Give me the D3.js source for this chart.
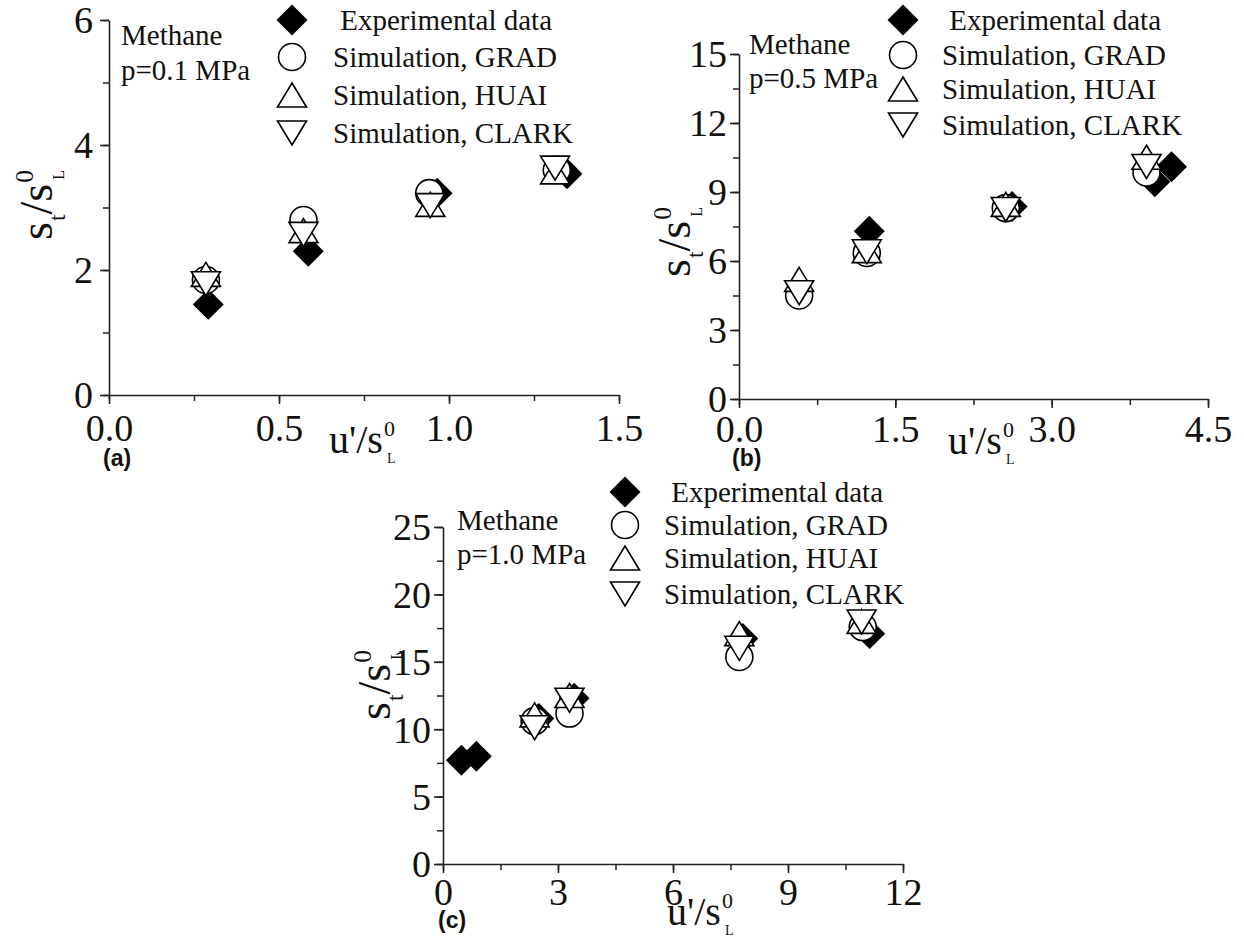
<!DOCTYPE html>
<html>
<head>
<meta charset="utf-8">
<script src="https://cdn.jsdelivr.net/npm/d3@7"></script>
<style>
body { margin: 0; background: #fff; }
svg { display: block; }
text { font-family: "Liberation Serif", "Times New Roman", serif; fill: #111; }
.panel-label { font-family: "Liberation Sans", Arial, sans-serif; font-weight: bold; }
</style>
</head>
<body>
<div id="chart"></div>
<script>
// ---- data: [u'/sL0, st/sL0] ----
// (a) p = 0.1 MPa
var expA   = [[0.292,1.45],[0.586,2.30],[0.965,3.23],[1.347,3.54]];
var gradA  = [[0.285,1.84],[0.572,2.80],[0.942,3.23],[1.317,3.60]];
var huaiA  = [[0.285,1.93],[0.572,2.63],[0.945,3.05],[1.312,3.57]];
var clarkA = [[0.285,1.78],[0.572,2.57],[0.945,3.03],[1.312,3.63]];

// (b) p = 0.5 MPa
var expB   = [[1.25,7.29],[2.62,8.37],[3.99,9.45],[4.15,10.10]];
var gradB  = [[0.577,4.50],[1.226,6.35],[2.56,8.30],[3.91,9.85]];
var huaiB  = [[0.577,5.20],[1.226,6.45],[2.56,8.46],[3.91,10.51]];
var clarkB = [[0.577,4.62],[1.226,6.40],[2.56,8.24],[3.91,10.11]];

// (c) p = 1.0 MPa
var expC   = [[0.48,7.70],[0.87,8.00],[2.50,10.80],[3.42,12.30],[7.82,16.72],[11.13,17.09]];
var gradC  = [[2.39,10.60],[3.30,11.16],[7.73,15.36],[10.95,17.58]];
var huaiC  = [[2.39,11.06],[3.30,12.50],[7.73,17.09],[10.92,18.00]];
var clarkC = [[2.39,10.11],[3.30,12.15],[7.73,16.00],[10.92,17.95]];

var xTicksA = [0, 0.5, 1.0, 1.5],  xLabelsA = ["0.0","0.5","1.0","1.5"];
var yTicksA = [0, 2, 4, 6],        yLabelsA = ["0","2","4","6"];
var xTicksB = [0, 1.5, 3.0, 4.5],  xLabelsB = ["0.0","1.5","3.0","4.5"];
var yTicksB = [0, 3, 6, 9, 12, 15],yLabelsB = ["0","3","6","9","12","15"];
var xTicksC = [0, 3, 6, 9, 12],    xLabelsC = ["0","3","6","9","12"];
var yTicksC = [0, 5, 10, 15, 20, 25], yLabelsC = ["0","5","10","15","20","25"];

var legendLabels = [" Experimental data", "Simulation, GRAD", "Simulation, HUAI", "Simulation, CLARK"];
var fuelLabel = "Methane";
var pressureLabels = ["p=0.1 MPa", "p=0.5 MPa", "p=1.0 MPa"];
var panelLabels = ["(a)", "(b)", "(c)"];

// ---- layout ----
var width = 1244, height = 942;
var svg = d3.select("#chart").append("svg").attr("width", width).attr("height", height);

var panels = [
  { exp: expA, grad: gradA, huai: huaiA, clark: clarkA, xd: [0,1.5], yd: [0,6],
    xt: xTicksA, xl: xLabelsA, yt: yTicksA, yl: yLabelsA, xMinor: 0.25, yMinor: 1,
    left: 109, right: 619, top: 20, bottom: 395,
    legX: 292, legY: [20,57,95,133], legTx: 333,
    methX: 121, methY: [45,80], xTitle: [329,453], yTitle: [52,240], lab: [103,466], lx: -16, ly: 46 },
  { exp: expB, grad: gradB, huai: huaiB, clark: clarkB, xd: [0,4.5], yd: [0,15],
    xt: xTicksB, xl: xLabelsB, yt: yTicksB, yl: yLabelsB, xMinor: 0.75, yMinor: 1.5,
    left: 739, right: 1208, top: 54, bottom: 399,
    legX: 903, legY: [20,55,89,125], legTx: 942,
    methX: 749, methY: [54,88], xTitle: [948,454], yTitle: [690,277], lab: [732,466], lx: -12, ly: 43 },
  { exp: expC, grad: gradC, huai: huaiC, clark: clarkC, xd: [0,12], yd: [0,25],
    xt: xTicksC, xl: xLabelsC, yt: yTicksC, yl: yLabelsC, xMinor: 1.5, yMinor: 2.5,
    left: 443, right: 903, top: 527, bottom: 864,
    legX: 625, legY: [492,525,558,594], legTx: 664,
    methX: 457, methY: [530,564], xTitle: [667,925], yTitle: [390,720], lab: [438,928], lx: -12, ly: 41 }
];

// markers
var diamond = d3.symbol().type(d3.symbolSquare).size(480);
var circle = d3.symbol().type(d3.symbolCircle).size(572);
function triUp(w, h) { return "M0," + (-h/2) + "L" + (w/2) + "," + (h/2) + "L" + (-w/2) + "," + (h/2) + "Z"; }
function triDown(w, h) { return "M0," + (h/2) + "L" + (w/2) + "," + (-h/2) + "L" + (-w/2) + "," + (-h/2) + "Z"; }

function drawMarker(g, kind, x, y) {
  if (kind === 0) {
    g.append("path").attr("d", diamond()).attr("transform", "translate(" + x + "," + y + ") rotate(45)")
      .attr("fill", "#000");
  } else if (kind === 1) {
    g.append("path").attr("d", circle()).attr("transform", "translate(" + x + "," + y + ")")
      .attr("fill", "#fff").attr("stroke", "#000").attr("stroke-width", 1.6);
  } else if (kind === 2) {
    g.append("path").attr("d", triUp(29, 24)).attr("transform", "translate(" + x + "," + y + ")")
      .attr("fill", "#fff").attr("stroke", "#000").attr("stroke-width", 1.6).attr("stroke-linejoin", "miter");
  } else {
    g.append("path").attr("d", triDown(29, 24)).attr("transform", "translate(" + x + "," + y + ")")
      .attr("fill", "#fff").attr("stroke", "#000").attr("stroke-width", 1.6).attr("stroke-linejoin", "miter");
  }
}

// title with sub/superscripts; segs: {m: main, s: sub, p: sup}
function drawTitle(g, segs, fs) {
  var x = 0;
  segs.forEach(function(s) {
    if (s.m) {
      var t = g.append("text").attr("x", x).attr("y", 0).style("font-size", fs + "px").text(s.m);
      x += t.node().getComputedTextLength();
    }
    if (s.s && !s.p) {
      var t2 = g.append("text").attr("x", x + 1).attr("y", fs * 0.28).style("font-size", (fs * 0.52) + "px").text(s.s);
      x += t2.node().getComputedTextLength() + 1;
    }
    if (s.p) {
      g.append("text").attr("x", x + 1).attr("y", -fs * 0.42).style("font-size", (fs * 0.55) + "px").text(s.p);
      g.append("text").attr("x", x + 4).attr("y", fs * 0.25).style("font-size", (fs * 0.35) + "px").text(s.s);
    }
  });
}

panels.forEach(function(p, i) {
  var x = d3.scaleLinear().domain(p.xd).range([p.left, p.right]);
  var y = d3.scaleLinear().domain(p.yd).range([p.bottom, p.top]);
  var g = svg.append("g");

  // minor ticks
  var xm = d3.range(p.xd[0], p.xd[1] + 1e-9, p.xMinor);
  var ym = d3.range(p.yd[0], p.yd[1] + 1e-9, p.yMinor);
  g.append("g").attr("transform", "translate(0," + p.bottom + ")")
    .call(d3.axisBottom(x).tickValues(xm).tickSize(6).tickFormat(""))
    .call(function(a) { a.select(".domain").remove(); a.selectAll("line").attr("stroke", "#222").attr("stroke-width", 1.5); });
  g.append("g").attr("transform", "translate(" + p.left + ",0)")
    .call(d3.axisLeft(y).tickValues(ym).tickSize(6).tickFormat(""))
    .call(function(a) { a.select(".domain").remove(); a.selectAll("line").attr("stroke", "#222").attr("stroke-width", 1.5); });

  // major axes
  var xa = g.append("g").attr("transform", "translate(0," + p.bottom + ")")
    .call(d3.axisBottom(x).tickValues(p.xt).tickSizeInner(9).tickSizeOuter(0)
      .tickFormat(function(d, k) { return p.xl[k]; }));
  xa.selectAll("text").attr("y", p.ly).attr("dy", 0).style("font-size", "38px")
    .style("font-family", "'Liberation Serif', serif").attr("fill", "#111");
  var ya = g.append("g").attr("transform", "translate(" + p.left + ",0)")
    .call(d3.axisLeft(y).tickValues(p.yt).tickSizeInner(9).tickSizeOuter(0)
      .tickFormat(function(d, k) { return p.yl[k]; }));
  ya.selectAll("text").attr("x", p.lx).attr("dy", "0.34em").style("font-size", "38px")
    .style("font-family", "'Liberation Serif', serif").attr("fill", "#111");
  [xa, ya].forEach(function(a) {
    a.select(".domain").attr("stroke", "#222").attr("stroke-width", 1.6);
    a.selectAll("line").attr("stroke", "#222").attr("stroke-width", 1.6);
  });

  // points: experimental first, then GRAD, HUAI, CLARK on top
  var series = [p.exp, p.grad, p.huai, p.clark];
  var pts = g.append("g");
  series.forEach(function(s, k) {
    s.forEach(function(d) { drawMarker(pts, k, x(d[0]), y(d[1])); });
  });

  // legend
  var leg = g.append("g");
  legendLabels.forEach(function(lbl, k) {
    drawMarker(leg, k, p.legX, p.legY[k]);
    leg.append("text").attr("x", p.legTx).attr("y", p.legY[k] + 10)
      .attr("xml:space", "preserve").style("font-size", "29px").style("white-space", "pre").text(lbl);
  });

  // annotation
  g.append("text").attr("x", p.methX).attr("y", p.methY[0]).style("font-size", "29px").text(fuelLabel);
  g.append("text").attr("x", p.methX).attr("y", p.methY[1]).style("font-size", "29px").text(pressureLabels[i]);

  // axis titles
  var xt = g.append("g").attr("transform", "translate(" + p.xTitle[0] + "," + p.xTitle[1] + ")");
  drawTitle(xt, [{ m: "u'/s" }, { p: "0", s: "L" }], 40);
  var yt = g.append("g").attr("transform", "translate(" + p.yTitle[0] + "," + p.yTitle[1] + ") rotate(-90)");
  drawTitle(yt, [{ m: "s" }, { s: "t" }, { m: "/s" }, { p: "0", s: "L" }], 46);

  g.append("text").attr("class", "panel-label").attr("x", p.lab[0]).attr("y", p.lab[1])
    .style("font-size", "23px").text(panelLabels[i]);
});
</script>
</body>
</html>
